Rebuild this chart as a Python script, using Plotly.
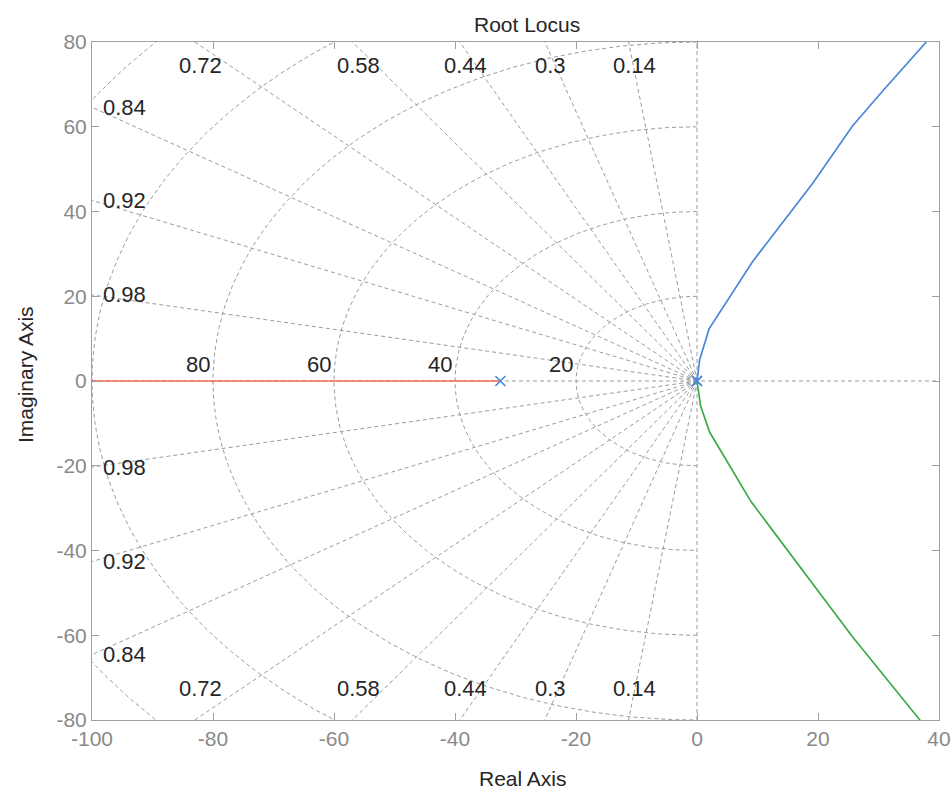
import numpy as np
import plotly.graph_objects as go

# ---- data ----
zeta_vals = [0.14, 0.3, 0.44, 0.58, 0.72, 0.84, 0.92, 0.98]
wn_circles = [20, 40, 60, 80, 100, 120]
wn_labels = [20, 40, 60, 80]

x_ticks = [-100, -80, -60, -40, -20, 0, 20, 40]
x_ticktext = ["-100", "-80", "-60", "-40", "-20", "0", "20", "40"]
y_ticks = [-80, -60, -40, -20, 0, 20, 40, 60, 80]
y_ticktext = ["-80", "-60", "-40", "-20", "0", "20", "40", "60", "80"]

blue_re = [0.0, 0.45, 2.0, 9.2, 19.1, 25.7, 30.8, 37.9]
blue_im = [0.0, 5.1, 12.3, 28.2, 46.6, 60.2, 68.6, 80.0]

green_re = [0.0, 0.6, 2.1, 8.9, 25.6, 36.9]
green_im = [0.0, -5.9, -12.1, -28.4, -60.2, -80.1]

red_re = [-32.5, -100.0]
red_im = [0.0, 0.0]

pole_re = [-32.5, 0.0, 0.0]
pole_im = [0.0, 0.0, 0.0]

XMIN, XMAX, YMIN, YMAX = -100, 40, -80, 80

GRID = "#9c9c9c"
AXC = "#a0a0a0"
TXT = "#262626"
TICKC = "#8a8a8a"
BLUE = "#4a86dc"
GREEN = "#3daa4a"
RED = "#f06a4e"
FONT = "Liberation Sans, Arial, sans-serif"

ML, MR, MT, MB = 92, 13, 42, 74
PW = 952 - ML - MR
PH = 794 - MT - MB

# ---- sgrid ----
gx, gy = [], []
for z in zeta_vals:
    s = np.sqrt(1 - z * z)
    for sign in (1, -1):
        gx += [0, -z * 300, None]
        gy += [0, sign * s * 300, None]
for r in wn_circles:
    th = np.linspace(np.pi / 2, 3 * np.pi / 2, 241)
    gx += list(r * np.cos(th)) + [None]
    gy += list(r * np.sin(th)) + [None]
gx += [XMIN, XMAX, None, 0, 0, None]
gy += [0, 0, None, YMIN, YMAX, None]

fig = go.Figure()
fig.add_trace(go.Scatter(x=gx, y=gy, mode="lines", hoverinfo="skip",
                         line=dict(color=GRID, width=1, dash="4px,3px"),
                         showlegend=False))
fig.add_trace(go.Scatter(x=red_re, y=red_im, mode="lines",
                         line=dict(color=RED, width=1.7), showlegend=False))
fig.add_trace(go.Scatter(x=blue_re, y=blue_im, mode="lines",
                         line=dict(color=BLUE, width=1.7), showlegend=False))
fig.add_trace(go.Scatter(x=green_re, y=green_im, mode="lines",
                         line=dict(color=GREEN, width=1.7), showlegend=False))
fig.add_trace(go.Scatter(x=pole_re, y=pole_im, mode="markers",
                         marker=dict(symbol="x-thin", size=10,
                                     line=dict(width=1.6, color=BLUE)),
                         showlegend=False))

ann = []
lab_font = dict(family=FONT, size=22, color=TXT)
for z in zeta_vals:
    s = np.sqrt(1 - z * z)
    y_edge = -XMIN * s / z
    txt = f"{z:g}"
    if y_edge <= YMAX:
        for sign in (1, -1):
            ann.append(dict(x=XMIN + 1.5, y=sign * y_edge, text=txt,
                            xanchor="left", yanchor="middle",
                            showarrow=False, font=lab_font))
    else:
        x_edge = -YMAX * z / s
        ann.append(dict(x=x_edge + 1, y=74.5, text=txt, xanchor="center",
                        yanchor="middle", showarrow=False, font=lab_font))
        ann.append(dict(x=x_edge + 1, y=-72.5, text=txt, xanchor="center",
                        yanchor="middle", showarrow=False, font=lab_font))
for w in wn_labels:
    ann.append(dict(x=-w - 2.5, y=3.9, text=str(w), xanchor="center",
                    yanchor="middle", showarrow=False, font=lab_font))

# titles
ann.append(dict(xref="paper", yref="paper", x=(527 - ML) / PW,
                y=(MT + PH - 25) / PH, text="Root Locus", showarrow=False,
                xanchor="center", yanchor="middle",
                font=dict(family=FONT, size=21, color=TXT)))
ann.append(dict(xref="paper", yref="paper", x=(523 - ML) / PW,
                y=(MT + PH - 778) / PH, text="Real Axis", showarrow=False,
                xanchor="center", yanchor="middle",
                font=dict(family=FONT, size=21, color=TXT)))
ann.append(dict(xref="paper", yref="paper", x=(25 - ML) / PW,
                y=(MT + PH - 375) / PH, text="Imaginary Axis",
                showarrow=False, textangle=-90, xanchor="center",
                yanchor="middle",
                font=dict(family=FONT, size=21, color=TXT)))

axis_common = dict(showgrid=False, zeroline=False, showline=True,
                   linecolor=AXC, linewidth=1, mirror="ticks",
                   ticks="inside", ticklen=7, tickcolor=AXC, tickwidth=1,
                   ticklabeloverflow="allow", automargin=False,
                   tickfont=dict(family=FONT, size=21, color=TICKC))

fig.update_layout(
    width=952, height=794,
    margin=dict(l=ML, r=MR, t=MT, b=MB, autoexpand=False),
    paper_bgcolor="white", plot_bgcolor="white",
    xaxis=dict(range=[XMIN, XMAX], tickvals=x_ticks, ticktext=x_ticktext,
               **axis_common),
    yaxis=dict(range=[YMIN, YMAX], tickvals=y_ticks, ticktext=y_ticktext,
               **axis_common),
    annotations=ann,
    showlegend=False,
)

fig.write_html("out.html",
               config={"displayModeBar": False},
               post_script="document.body.style.margin='0';"
                           "document.body.style.overflow='hidden';")
